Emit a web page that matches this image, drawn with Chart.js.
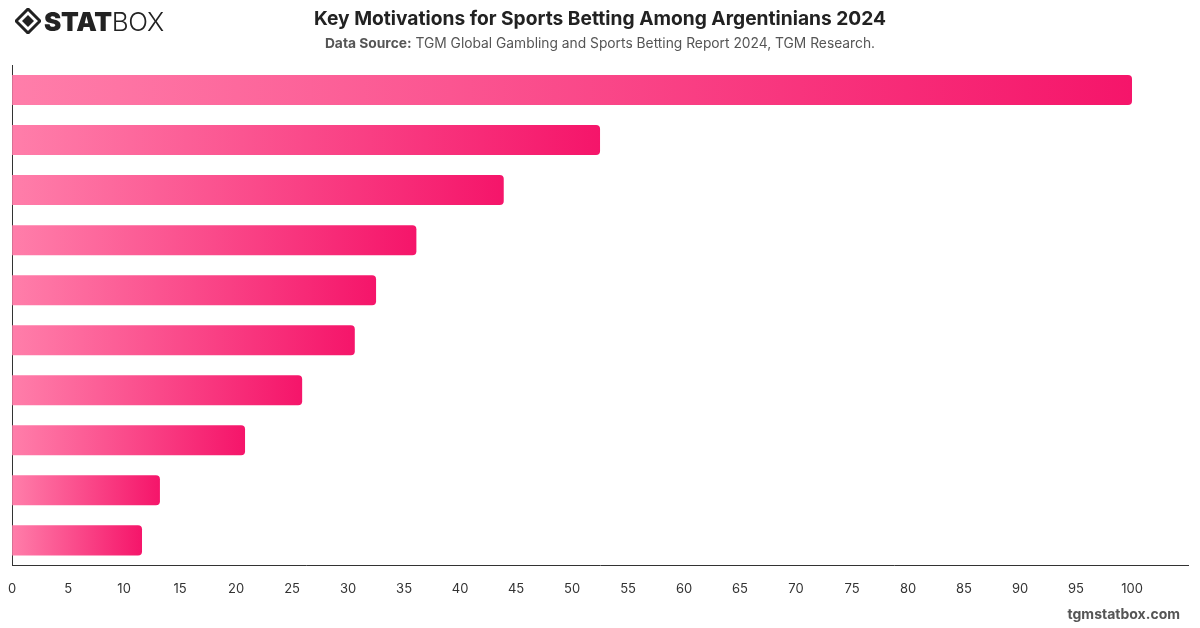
<!DOCTYPE html>
<html>
<head>
<meta charset="utf-8">
<script src="https://cdn.jsdelivr.net/npm/chart.js@4"></script>
<style>
    body { margin: 0; background: #fff; font-family: Inter, "Noto Sans", sans-serif; }
    #wrap { position: relative; width: 1200px; height: 628px; overflow: hidden; }
    #chartBox { position: absolute; left: 0; top: 0; width: 1200px; height: 628px; }
    .logo { position: absolute; left: 15px; top: 7px; height: 28px; display: flex; align-items: center; }
    .logo .icon { width: 26px; height: 26px; margin-right: 3px; }
    .logo .stat { font-size: 26px; font-weight: 900; color: #222; letter-spacing: -0.3px; }
    .logo .box { font-size: 26px; font-weight: 300; color: #222; letter-spacing: -0.3px; }
    .title { position: absolute; left: 0; width: 1200px; top: 6px; text-align: center; font-size: 19.2px; font-weight: 700; color: #222; }
    .subtitle { position: absolute; left: 0; width: 1200px; top: 35px; text-align: center; font-size: 13.8px; color: #555; }
    .subtitle b { font-weight: 700; }
    .footer { position: absolute; right: 20px; top: 605px; font-size: 14px; font-weight: 700; color: #555; }
</style>
</head>
<body>
<div id="wrap">
    <div id="chartBox"><canvas id="mainChart"></canvas></div>
    <div class="logo">
        <svg class="icon" viewBox="0 0 26 26">
            <polygon points="13,1 25,13 13,25 1,13" fill="none" stroke="#222" stroke-width="3"/>
            <polygon points="13,7 19,13 13,19 7,13" fill="#222"/>
        </svg>
        <span class="stat">STAT</span><span class="box">BOX</span>
    </div>
    <div class="title">Key Motivations for Sports Betting Among Argentinians 2024</div>
    <div class="subtitle"><b>Data Source:</b> TGM Global Gambling and Sports Betting Report 2024, TGM Research.</div>
    <div class="footer">tgmstatbox.com</div>
</div>
<script>
// Chart data (category labels are hidden in the original)
const motivations = [
    'To win money',
    'For entertainment',
    'To make watching sports more exciting',
    'To test my sports knowledge',
    'To socialize with friends',
    'To support my favourite team',
    'Out of habit',
    'To relieve stress',
    'Because of promotions and bonuses',
    'Because friends or family do it'
];
const shares = [100, 52.5, 43.9, 36.1, 32.5, 30.6, 25.9, 20.8, 13.2, 11.6];
const axisMax = 105;
const axisStep = 5;

// Each bar gets its own gradient, light at the axis and deep at the tip
function barGradient(context) {
    const chart = context.chart;
    const xScale = chart.scales.x;
    if (!xScale || context.dataIndex === undefined) {
        return '#f5156a';
    }
    const start = xScale.getPixelForValue(0);
    const end = xScale.getPixelForValue(shares[context.dataIndex]);
    if (!isFinite(start) || !isFinite(end) || end <= start) {
        return '#f5156a';
    }
    const grad = chart.ctx.createLinearGradient(start, 0, end, 0);
    grad.addColorStop(0, '#ff7eaa');
    grad.addColorStop(1, '#f5156a');
    return grad;
}

const ctx = document.getElementById('mainChart');

new Chart(ctx, {
    type: 'bar',
    data: {
        labels: motivations,
        datasets: [{
            label: 'Share',
            data: shares,
            backgroundColor: barGradient,
            borderRadius: 4,
            borderSkipped: 'start',
            barPercentage: 0.6,
            categoryPercentage: 1
        }]
    },
    options: {
        indexAxis: 'y',
        responsive: true,
        maintainAspectRatio: false,
        animation: false,
        layout: {
            padding: { left: 3, right: 12, top: 65, bottom: 23 }
        },
        plugins: {
            legend: { display: false },
            tooltip: { enabled: false }
        },
        scales: {
            x: {
                min: 0,
                max: axisMax,
                grid: { display: false },
                border: { display: true, color: '#333', width: 1 },
                ticks: {
                    stepSize: axisStep,
                    color: '#333',
                    padding: 8,
                    font: { family: 'Inter', size: 13 },
                    maxRotation: 0,
                    callback: function(value) {
                        return value > 100 ? '' : value;
                    }
                }
            },
            y: {
                grid: { display: false },
                border: { display: true, color: '#333', width: 1 },
                ticks: { display: false }
            }
        }
    }
});
</script>
</body>
</html>
